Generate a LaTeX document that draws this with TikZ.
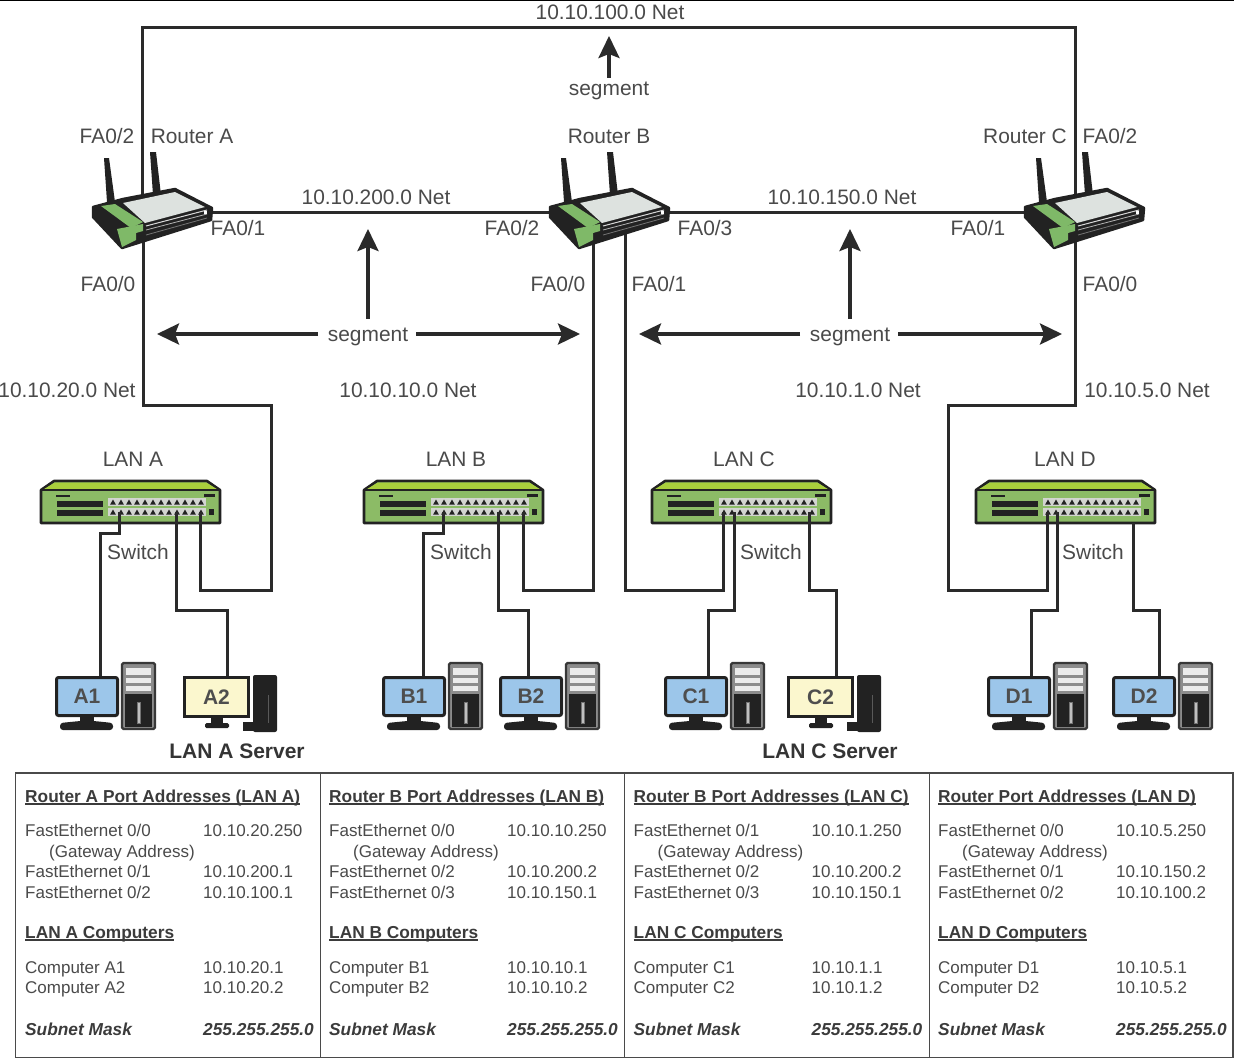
\documentclass[tikz,border=0pt]{standalone}
\usepackage{fontspec}
\setmainfont{Liberation Sans}
\usetikzlibrary{arrows.meta}
\definecolor{ink}{HTML}{4A4A4A}
\definecolor{wirec}{HTML}{2A2A2A}
\definecolor{darkbody}{HTML}{222222}
\definecolor{greenA}{HTML}{8CBB66}
\definecolor{greenB}{HTML}{A9CF3C}
\definecolor{greenC}{HTML}{7FB968}
\definecolor{screenblue}{HTML}{9CC6EA}
\definecolor{screenyellow}{HTML}{FBF7CE}
\definecolor{topgrey}{HTML}{DDE2DF}
\definecolor{portgrey}{HTML}{D2D4D0}
\newcommand\ulined[1]{\setbox0\hbox{#1}\rlap{\rule[-2.5pt]{\wd0}{1.4pt}}\box0}
\tikzset{
  wire/.style={draw=wirec,line width=3pt,line join=miter},
  bigarrow/.style={draw=wirec,line width=3.4pt,-{Stealth[length=22pt,width=21pt,inset=4pt]}},
  lbl/.style={inner sep=0pt,text=ink,font=\fontsize{20.9}{24}\selectfont},
  boldlbl/.style={inner sep=0pt,text=ink!70!black,font=\fontsize{21}{24}\selectfont\bfseries},
  cell/.style={inner sep=0pt,anchor=base west,text=ink,font=\fontsize{17}{20}\selectfont},
  cellb/.style={inner sep=0pt,anchor=base west,text=ink!80!black,font=\fontsize{17.3}{20}\selectfont\bfseries},
  cellbi/.style={inner sep=0pt,anchor=base west,text=ink!80!black,font=\fontsize{17.3}{20}\selectfont\bfseries\itshape},
  frameb/.style={draw=ink,line width=1.8pt}
}
% router: origin = left corner of the body
\newcommand\routerpic[2]{%
\begin{scope}[shift={(#1,#2)}]
  \fill[darkbody] (11,-49)--(16,-49)--(22,-5)--(14,-5)--cycle;
  \fill[darkbody] (57,-55)--(63,-55)--(68,-12)--(60,-12)--cycle;
  \filldraw[darkbody,line width=2.5pt,line join=round] (0,0)--(30,-8)--(82,-18)--(119,1)--(118,13)--(29,41)--(0,10)--cycle;
  \fill[topgrey] (30,-4)--(82,-15)--(112,0)--(52,16)--cycle;
  \fill[greenC] (8,-1)--(22,-3)--(50,15)--(38,21)--cycle;
  \fill[greenC] (24,22)--(50,17)--(50,24)--(43,26)--(43,33)--(29,40)--cycle;
  \draw[white!85!black,line width=1pt] (53,19)--(114,3);
  \draw[white!70!black,line width=.8pt] (53,23)--(114,7);
  \draw[white!45!black,line width=.8pt] (53,28)--(114,11);
  \fill[white] (111,4) rectangle (114,7);
\end{scope}}
% switch: origin = top-left of the case
\newcommand\switchpic[2]{%
\begin{scope}[shift={(#1,#2)}]
  \filldraw[fill=greenA,draw=darkbody,line width=2.6pt,line join=round] (0,9)--(13,0)--(166,0)--(179,9)--(179,42)--(0,42)--cycle;
  \fill[greenB] (1.5,9)--(14,1.5)--(165,1.5)--(177.5,9)--cycle;
  \draw[darkbody,line width=1.2pt] (0,9)--(179,9);
  \fill[darkbody] (15,14) rectangle (29,16);
  \fill[darkbody] (163,13) rectangle (174,16);
  \fill[darkbody] (16,20) rectangle (62,25.5);
  \fill[darkbody] (16,29) rectangle (62,34.5);
  \fill[portgrey] (67,17) rectangle (165,24.5);
  \fill[portgrey] (67,27) rectangle (165,34.5);
  \foreach \i in {0,...,11}{
    \fill[darkbody] ({72+\i*8-2.8},23.5)--({72+\i*8+2.8},23.5)--({72+\i*8},18.5)--cycle;
    \fill[darkbody] ({72+\i*8-2.8},33.5)--({72+\i*8+2.8},33.5)--({72+\i*8},28.5)--cycle;
  }
  \fill[darkbody] (168,28) rectangle (172.5,34);
\end{scope}}
% tower used by ordinary computers: origin = top-left
\newcommand\towerpic[2]{%
\begin{scope}[shift={(#1,#2)}]
  \filldraw[fill=white!55!black,draw=darkbody!90!white,line width=2.2pt,rounded corners=1.5pt] (0,0) rectangle (33,66);
  \fill[white!92!black] (4,5) rectangle (29,12);
  \fill[white!92!black] (4,14.5) rectangle (29,20);
  \fill[white!92!black] (4,22.5) rectangle (29,28);
  \fill[darkbody] (3,31) rectangle (30,64);
  \filldraw[fill=white!75!black,draw=white!45!black,line width=.5pt] (15,39) rectangle (18,60);
\end{scope}}
% monitor: #1 name, #2 x, #3 y, #4 text
\newcommand\pcpic[4]{%
  \fill[darkbody] (#2+25,#3+38) rectangle (#2+39,#3+48);
  \fill[darkbody,rounded corners=3pt] (#2+5,#3+47) -- (#2+25,#3+45) -- (#2+39,#3+45) -- (#2+58,#3+47) -- (#2+58,#3+54) -- (#2+5,#3+54) -- cycle;
  \node[fill=screenblue,draw=darkbody,line width=3pt,rounded corners=2pt,minimum width=61pt,minimum height=38pt,inner sep=0pt,anchor=north west,font=\fontsize{21}{24}\selectfont\bfseries,text=darkbody!80!white] (#1) at (#2,#3) {#4};
}
\newcommand\serverpic[4]{%
  \fill[darkbody,rounded corners=2pt] (#2+70,#3-1) rectangle (#2+94,#3+56);
  \fill[darkbody] (#2+60,#3+46) rectangle (#2+72,#3+55);
  \draw[white!35!black,line width=.8pt] (#2+85,#3+19) -- (#2+85,#3+47);
  \fill[darkbody] (#2+28,#3+42) rectangle (#2+40,#3+47);
  \fill[darkbody,rounded corners=1.5pt] (#2+22,#3+47) rectangle (#2+46,#3+52);
  \node[fill=screenyellow,draw=darkbody,line width=3pt,minimum width=64pt,minimum height=39pt,inner sep=0pt,anchor=north west,font=\fontsize{21}{24}\selectfont\bfseries,text=darkbody!80!white] (#1) at (#2,#3) {#4};
}
% table column: #1 prefix, #2 x, #3 title, #4,#5 port1, #6,#7 port2, #8,#9 port3
\newcommand\tablecolA[9]{%
  \node[cellb] (#1title) at (#2,802) {\ulined{#3}};
  \node[cell] (#1pa) at (#2,836) {#4};
  \node[cell] (#1pav) at (#2+178,836) {#5};
  \node[cell] (#1gw) at (#2+24,857) {(Gateway Address)};
  \node[cell] (#1pb) at (#2,877.5) {#6};
  \node[cell] (#1pbv) at (#2+178,877.5) {#7};
  \node[cell] (#1pc) at (#2,898) {#8};
  \node[cell] (#1pcv) at (#2+178,898) {#9};
}
% #1 prefix, #2 x, #3 LAN title, #4,#5 comp1, #6,#7 comp2
\newcommand\tablecolB[7]{%
  \node[cellb] (#1lan) at (#2,938) {\ulined{#3}};
  \node[cell] (#1ca) at (#2,973) {#4};
  \node[cell] (#1cav) at (#2+178,973) {#5};
  \node[cell] (#1cb) at (#2,993) {#6};
  \node[cell] (#1cbv) at (#2+178,993) {#7};
  \node[cellbi] (#1sn) at (#2,1035) {Subnet Mask};
  \node[cellbi] (#1snv) at (#2+178,1035) {255.255.255.0};
}
\begin{document}
\begin{tikzpicture}[x=1pt,y=-1pt]
\useasboundingbox (0,0) rectangle (1234,1058);
\fill[white] (0,0) rectangle (1234,1058);
\draw[black,line width=1.5pt] (0,0.6) -- (1234,0.6);

% anchor coordinates
\coordinate (rAtop) at (142.5,212);
\coordinate (rAbot) at (143.5,238);
\coordinate (rAright) at (205,212);
\coordinate (rBleft) at (556,212);
\coordinate (rBright) at (660,212);
\coordinate (rBbota) at (593,235);
\coordinate (rBbotb) at (625,230);
\coordinate (rCleft) at (1030,212);
\coordinate (rCtop) at (1075.5,212);
\coordinate (rCbot) at (1075.5,238);
\coordinate (tl) at (142.5,27);
\coordinate (tr) at (1075.5,27);
\coordinate (aT) at (271,405);
\coordinate (aU) at (271,590);
\coordinate (bU) at (593,590);
\coordinate (cU) at (625,590);
\coordinate (dT) at (948,405);
\coordinate (dU) at (948,590);
\coordinate (swAa) at (119,512);
\coordinate (swAb) at (176,512);
\coordinate (swAc) at (200,512);
\coordinate (swBa) at (443,512);
\coordinate (swBb) at (498,512);
\coordinate (swBc) at (523,512);
\coordinate (swCa) at (723,512);
\coordinate (swCb) at (734,512);
\coordinate (swCc) at (809,512);
\coordinate (swDa) at (1047,512);
\coordinate (swDb) at (1057,512);
\coordinate (swDc) at (1133,523);
\coordinate (jAa) at (119,533);
\coordinate (jAb) at (176,610);
\coordinate (jBa) at (443,533);
\coordinate (jBb) at (498,610);
\coordinate (jCb) at (734,610);
\coordinate (jCc) at (809,590);
\coordinate (jDb) at (1057,610);
\coordinate (jDc) at (1133,610);

% switches
\switchpic{41}{481}
\switchpic{364}{481}
\switchpic{652}{481}
\switchpic{976}{481}

% computers
\pcpic{pcAa}{55}{676}{A1}
\towerpic{122}{663}
\serverpic{pcAb}{183}{676}{A2}
\pcpic{pcBa}{382}{676}{B1}
\towerpic{449}{663}
\pcpic{pcBb}{499}{676}{B2}
\towerpic{566}{663}
\pcpic{pcCa}{664}{676}{C1}
\towerpic{731}{663}
\serverpic{pcCb}{787}{676}{C2}
\pcpic{pcDa}{987}{676}{D1}
\towerpic{1054}{663}
\pcpic{pcDb}{1112}{676}{D2}
\towerpic{1179}{663}

% connectors
\coordinate (wAa) at (100,676);
\coordinate (wAb) at (227,676);
\coordinate (wBa) at (423,676);
\coordinate (wBb) at (528,676);
\coordinate (wCa) at (708,676);
\coordinate (wCb) at (836,676);
\coordinate (wDa) at (1031,676);
\coordinate (wDb) at (1159,676);
\draw[wire] (rAtop) -- (tl) -- (tr) -- (rCtop);
\draw[wire] (rAright) -- (rBleft);
\draw[wire] (rBright) -- (rCleft);
\draw[wire] (rAbot) |- (aT) -- (aU) -| (swAc);
\draw[wire] (rBbota) -- (bU) -| (swBc);
\draw[wire] (rBbotb) -- (cU) -| (swCa);
\draw[wire] (rCbot) |- (dT) -- (dU) -| (swDa);
\draw[wire] (swAa) -- (jAa) -| (wAa);
\draw[wire] (swAb) -- (jAb) -| (wAb);
\draw[wire] (swBa) -- (jBa) -| (wBa);
\draw[wire] (swBb) -- (jBb) -| (wBb);
\draw[wire] (swCb) -- (jCb) -| (wCa);
\draw[wire] (swCc) -- (jCc) -| (wCb);
\draw[wire] (swDb) -- (jDb) -| (wDa);
\draw[wire] (swDc) -- (jDc) -| (wDb);

% routers
\routerpic{93}{207}
\routerpic{550}{207}
\routerpic{1025}{207}

% arrows and labels
\node[lbl] (n100) at (610,12) {10.10.100.0 Net};
\node[lbl] (segT) at (609,91) {segment};
\node[lbl] (segL) at (368,337) {segment};
\node[lbl] (segR) at (850,337) {segment};
\coordinate (tipT) at (609,36);
\coordinate (tipLu) at (368,229);
\coordinate (tipLl) at (157,334);
\coordinate (tipLr) at (580,334);
\coordinate (tipRu) at (850,229);
\coordinate (tipRl) at (639,334);
\coordinate (tipRr) at (1062,334);
\coordinate (stLl) at (318,334);
\coordinate (stLr) at (416,334);
\coordinate (stRl) at (800,334);
\coordinate (stRr) at (898,334);
\draw[bigarrow] ([yshift=4pt]segT.north) -- (tipT);
\draw[bigarrow] ([yshift=9pt]segL.north) -- (tipLu);
\draw[bigarrow] (stLl) -- (tipLl);
\draw[bigarrow] (stLr) -- (tipLr);
\draw[bigarrow] ([yshift=9pt]segR.north) -- (tipRu);
\draw[bigarrow] (stRl) -- (tipRl);
\draw[bigarrow] (stRr) -- (tipRr);

\node[lbl] (lblRA) at (192,136.5) {Router A};
\node[lbl] (lblRB) at (609,136.5) {Router B};
\node[lbl] (lblRC) at (1025,136.5) {Router C};
\node[lbl] (fa1) at (107,136) {FA0/2};
\node[lbl] (fa2) at (1110,136) {FA0/2};
\node[lbl] (fa3) at (238,228) {FA0/1};
\node[lbl] (fa4) at (512,228) {FA0/2};
\node[lbl] (fa5) at (705,228) {FA0/3};
\node[lbl] (fa6) at (978,228) {FA0/1};
\node[lbl] (fa7) at (108,284) {FA0/0};
\node[lbl] (fa8) at (558,284) {FA0/0};
\node[lbl] (fa9) at (659,284) {FA0/1};
\node[lbl] (fa10) at (1110,284) {FA0/0};
\node[lbl] (n200) at (376,197) {10.10.200.0 Net};
\node[lbl] (n150) at (842,197) {10.10.150.0 Net};
\node[lbl] (n20) at (67,390) {10.10.20.0 Net};
\node[lbl] (n10) at (408,390) {10.10.10.0 Net};
\node[lbl] (n1) at (858,390) {10.10.1.0 Net};
\node[lbl] (n5) at (1147,390) {10.10.5.0 Net};
\node[lbl] (lanA) at (133,459) {LAN A};
\node[lbl] (lanB) at (456,459) {LAN B};
\node[lbl] (lanC) at (744,459) {LAN C};
\node[lbl] (lanD) at (1065,459) {LAN D};
\node[lbl] (swtA) at (138,552) {Switch};
\node[lbl] (swtB) at (461,552) {Switch};
\node[lbl] (swtC) at (771,552) {Switch};
\node[lbl] (swtD) at (1093,552) {Switch};
\node[boldlbl] (srvA) at (237,751) {LAN A Server};
\node[boldlbl] (srvC) at (830,751) {LAN C Server};

% table
\draw[frameb] (15.5,773) rectangle (1233,1057.5);
\draw[frameb] (320.5,773) -- (320.5,1057.5);
\draw[frameb] (624.5,773) -- (624.5,1057.5);
\draw[frameb] (929.5,773) -- (929.5,1057.5);
\tablecolA{ta}{25}{Router A Port Addresses (LAN A)}{FastEthernet 0/0}{10.10.20.250}{FastEthernet 0/1}{10.10.200.1}{FastEthernet 0/2}{10.10.100.1}
\tablecolB{ta}{25}{LAN A Computers}{Computer A1}{10.10.20.1}{Computer A2}{10.10.20.2}
\tablecolA{tb}{329}{Router B Port Addresses (LAN B)}{FastEthernet 0/0}{10.10.10.250}{FastEthernet 0/2}{10.10.200.2}{FastEthernet 0/3}{10.10.150.1}
\tablecolB{tb}{329}{LAN B Computers}{Computer B1}{10.10.10.1}{Computer B2}{10.10.10.2}
\tablecolA{tc}{633.5}{Router B Port Addresses (LAN C)}{FastEthernet 0/1}{10.10.1.250}{FastEthernet 0/2}{10.10.200.2}{FastEthernet 0/3}{10.10.150.1}
\tablecolB{tc}{633.5}{LAN C Computers}{Computer C1}{10.10.1.1}{Computer C2}{10.10.1.2}
\tablecolA{td}{938}{Router Port Addresses (LAN D)}{FastEthernet 0/0}{10.10.5.250}{FastEthernet 0/1}{10.10.150.2}{FastEthernet 0/2}{10.10.100.2}
\tablecolB{td}{938}{LAN D Computers}{Computer D1}{10.10.5.1}{Computer D2}{10.10.5.2}
\end{tikzpicture}
\end{document}
